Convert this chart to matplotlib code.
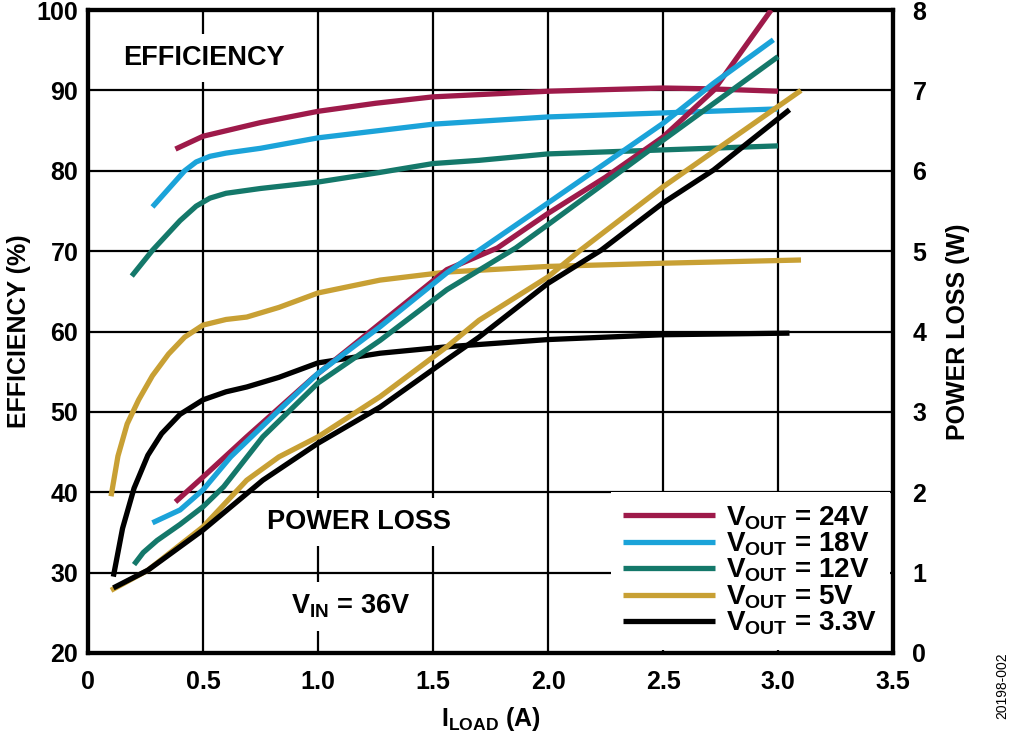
import numpy as np
import matplotlib
matplotlib.use("Agg")
import matplotlib.pyplot as plt

plt.rcParams['font.family'] = ['Liberation Sans', 'DejaVu Sans']
plt.rcParams['font.weight'] = 'bold'
plt.rcParams['mathtext.fontset'] = 'custom'
plt.rcParams['mathtext.rm'] = 'Liberation Sans:bold'
plt.rcParams['mathtext.it'] = 'Liberation Sans:bold'
plt.rcParams['mathtext.bf'] = 'Liberation Sans:bold'
plt.rcParams['mathtext.default'] = 'rm'

# --- efficiency (%) vs load current (A) ---
i_eff_24 = [0.38, 0.5, 0.75, 1.0, 1.25, 1.5, 2.0, 2.5, 2.7, 3.0]
eff_24 = [82.7, 84.3, 86.0, 87.4, 88.4, 89.2, 89.9, 90.3, 90.2, 89.9]

i_eff_18 = [0.28, 0.42, 0.47, 0.53, 0.6, 0.75, 1.0, 1.5, 2.0, 2.5, 3.0]
eff_18 = [75.5, 80.0, 81.1, 81.8, 82.2, 82.8, 84.1, 85.8, 86.7, 87.2, 87.7]

i_eff_12 = [0.19, 0.28, 0.4, 0.47, 0.53, 0.6, 0.75, 1.0, 1.27, 1.5, 1.7, 2.0, 2.5, 3.0]
eff_12 = [66.9, 70.1, 73.8, 75.6, 76.6, 77.2, 77.8, 78.6, 79.8, 80.9, 81.3, 82.1, 82.6, 83.1]

i_eff_5 = [0.10, 0.13, 0.17, 0.22, 0.28, 0.35, 0.42, 0.5, 0.6, 0.69, 0.83, 1.0, 1.27, 1.56, 2.0, 2.5, 3.1]
eff_5 = [39.5, 44.5, 48.5, 51.5, 54.5, 57.2, 59.3, 60.8, 61.5, 61.8, 63.0, 64.8, 66.4, 67.4, 68.1, 68.5, 68.9]

i_eff_33 = [0.11, 0.15, 0.2, 0.26, 0.32, 0.4, 0.5, 0.6, 0.69, 0.83, 1.0, 1.27, 1.56, 2.0, 2.5, 3.05]
eff_33 = [29.5, 35.5, 40.5, 44.6, 47.3, 49.7, 51.5, 52.5, 53.1, 54.3, 56.1, 57.3, 58.1, 59.0, 59.6, 59.8]

# --- power loss (W) vs load current (A) ---
i_pl_24 = [0.38, 0.5, 0.69, 0.98, 1.27, 1.56, 1.78, 2.0, 2.25, 2.5, 2.72, 2.97]
pl_24 = [1.88, 2.19, 2.69, 3.43, 4.10, 4.77, 5.04, 5.47, 5.92, 6.42, 7.00, 8.00]

i_pl_18 = [0.28, 0.4, 0.5, 0.62, 0.83, 1.0, 1.27, 1.56, 1.7, 2.0, 2.5, 2.72, 2.98]
pl_18 = [1.62, 1.78, 2.03, 2.44, 3.02, 3.48, 4.06, 4.73, 5.01, 5.60, 6.59, 7.09, 7.63]

i_pl_12 = [0.2, 0.24, 0.3, 0.4, 0.5, 0.59, 0.76, 1.0, 1.27, 1.56, 1.86, 2.0, 2.5, 3.0]
pl_12 = [1.10, 1.25, 1.40, 1.60, 1.82, 2.07, 2.69, 3.36, 3.89, 4.52, 5.04, 5.33, 6.38, 7.42]

i_pl_5 = [0.1, 0.26, 0.5, 0.69, 0.83, 1.0, 1.27, 1.56, 1.7, 2.0, 2.14, 2.5, 3.1]
pl_5 = [0.78, 1.03, 1.57, 2.15, 2.44, 2.69, 3.19, 3.81, 4.14, 4.68, 5.01, 5.80, 7.00]

i_pl_33 = [0.11, 0.26, 0.5, 0.76, 1.0, 1.27, 1.56, 1.7, 2.0, 2.23, 2.5, 2.72, 3.05]
pl_33 = [0.81, 1.03, 1.53, 2.15, 2.61, 3.06, 3.65, 3.93, 4.60, 5.01, 5.60, 6.01, 6.76]

labels = ["V$_{OUT}$ = 24V", "V$_{OUT}$ = 18V", "V$_{OUT}$ = 12V",
          "V$_{OUT}$ = 5V", "V$_{OUT}$ = 3.3V"]
colors = ["#9E1A4A", "#1BA3D9", "#14786A", "#C8A034", "#000000"]

eff_x = [i_eff_24, i_eff_18, i_eff_12, i_eff_5, i_eff_33]
eff_y = [eff_24, eff_18, eff_12, eff_5, eff_33]
pl_x = [i_pl_24, i_pl_18, i_pl_12, i_pl_5, i_pl_33]
pl_y = [pl_24, pl_18, pl_12, pl_5, pl_33]

fig = plt.figure(figsize=(10.12, 7.45), dpi=100)
ax = fig.add_axes([0.087, 0.1235, 0.7954, 0.863])
ax2 = ax.twinx()

lw = 3.8
for xs, ys, c in zip(eff_x, eff_y, colors):
    ax.plot(xs, ys, color=c, lw=lw, solid_capstyle='butt', solid_joinstyle='round', zorder=3)
for xs, ys, c, lab in zip(pl_x, pl_y, colors, labels):
    ax2.plot(xs, ys, color=c, lw=lw, solid_capstyle='butt', solid_joinstyle='round', label=lab, zorder=3)

ax.set_xlim(0, 3.5)
ax.set_ylim(20, 100)
ax2.set_ylim(0, 8)
ax.set_xticks(np.arange(0, 3.51, 0.5))
ax.set_xticklabels(["0", "0.5", "1.0", "1.5", "2.0", "2.5", "3.0", "3.5"])
ax.set_yticks(np.arange(20, 101, 10))
ax2.set_yticks(np.arange(0, 9, 1))

ax.grid(True, color='black', lw=1.6)
ax.set_axisbelow(True)
for a in (ax, ax2):
    for s in a.spines.values():
        s.set_linewidth(3)
    a.tick_params(length=0, labelsize=18)
ax.tick_params(axis='y', pad=7)
ax.tick_params(axis='x', pad=12)
ax2.tick_params(axis='y', pad=14)

ax.set_xlabel("I$_{LOAD}$ (A)", fontsize=18, fontweight='bold', labelpad=8)
ax.set_ylabel("EFFICIENCY (%)", fontsize=18, fontweight='bold', labelpad=4)
ax2.set_ylabel("POWER LOSS (W)", fontsize=18, fontweight='bold', labelpad=14)

box = dict(facecolor='white', edgecolor='none', pad=8)
ax.text(0.504, 94.0, "EFFICIENCY", fontsize=19.5, fontweight='bold', ha='center', va='center', bbox=box, zorder=2)
ax.text(1.178, 36.3, "POWER LOSS", fontsize=19.5, fontweight='bold', ha='center', va='center', bbox=box, zorder=2)
ax.text(1.143, 25.8, "V$_{IN}$ = 36V", fontsize=19.5, fontweight='bold', ha='center', va='center', bbox=box, zorder=2)

leg = ax2.legend(loc='lower right', fontsize=20, frameon=True, fancybox=False,
                 handlelength=3.3, labelspacing=-0.04, borderaxespad=0.12,
                 handletextpad=0.4, borderpad=0.45)
leg.get_frame().set_edgecolor('none')
leg.get_frame().set_facecolor('white')
leg.get_frame().set_alpha(1)
for line in leg.get_lines():
    line.set_linewidth(lw)

fig.text(0.99, 0.035, "20198-002", rotation=90, fontsize=10, fontweight='normal',
         ha='center', va='bottom')

fig.savefig("out.png", dpi=100)
